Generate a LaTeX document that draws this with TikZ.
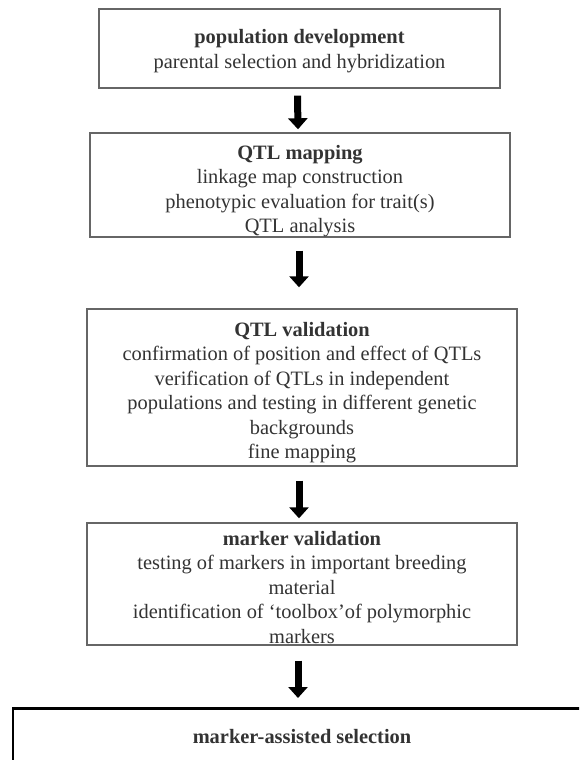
\documentclass[tikz,border=0pt]{standalone}
\usepackage{fontspec}
\setmainfont{Liberation Serif}
\usetikzlibrary{arrows.meta}
\begin{document}
\begin{tikzpicture}[x=1pt,y=-1pt,
  box/.style={draw=black!60, line width=1.4pt, inner sep=0pt},
  txt/.style={inner sep=0pt, align=center, text=black!80,
    font=\fontsize{20.4}{24.5}\selectfont},
  bigbox/.style={draw=black, line width=2.6pt, inner sep=0pt},
  fat/.style={line width=7pt, -{Triangle[width=19pt,length=11pt]}, black}]
\useasboundingbox (0,0) rectangle (579,760);
\clip (0,0) rectangle (579,760);
\fill[white] (0,0) rectangle (579,760);
\node[box, minimum width=401pt, minimum height=79pt] (b1) at (299.5,48.5) {};
\node[txt] (b1t) at (299.5,51)
  {\textbf{population development}\\parental selection and hybridization};
\node[box, minimum width=420pt, minimum height=104pt] (b2) at (300,185) {};
\node[txt] (b2t) at (300,191)
  {\textbf{QTL mapping}\\linkage map construction\\phenotypic evaluation for trait(s)\\QTL analysis};
\node[box, minimum width=430pt, minimum height=157pt] (b3) at (302,387.5) {};
\node[txt] (b3t) at (302,392.5)
  {\textbf{QTL validation}\\confirmation of position and effect of QTLs\\verification of QTLs in independent\\populations and testing in different genetic\\backgrounds\\fine mapping};
\node[box, minimum width=430pt, minimum height=122pt] (b4) at (302,584) {};
\node[txt] (b4t) at (302,587.5)
  {\textbf{marker validation}\\testing of markers in important breeding\\material\\identification of `toolbox'of polymorphic\\markers};
\node[bigbox, anchor=north, minimum width=570pt, minimum height=110pt] (b5) at (298,707) {};
\node[txt, font=\fontsize{20.4}{24.5}\selectfont\bfseries] (b5t) at (302,737) {marker-assisted selection};
\draw[fat] ([xshift=-2pt,yshift=-7pt]b1.south) -- ([xshift=-2pt,yshift=3pt]b2.north);
\draw[fat] ([xshift=-1pt,yshift=-13pt]b2.south) -- ([xshift=-3pt,yshift=21pt]b3.north);
\draw[fat] ([xshift=-3pt,yshift=-14pt]b3.south) -- ([xshift=-3pt,yshift=4pt]b4.north);
\draw[fat] ([xshift=-4pt,yshift=-15pt]b4.south) -- ([yshift=9pt]b5.north);
\end{tikzpicture}
\end{document}
